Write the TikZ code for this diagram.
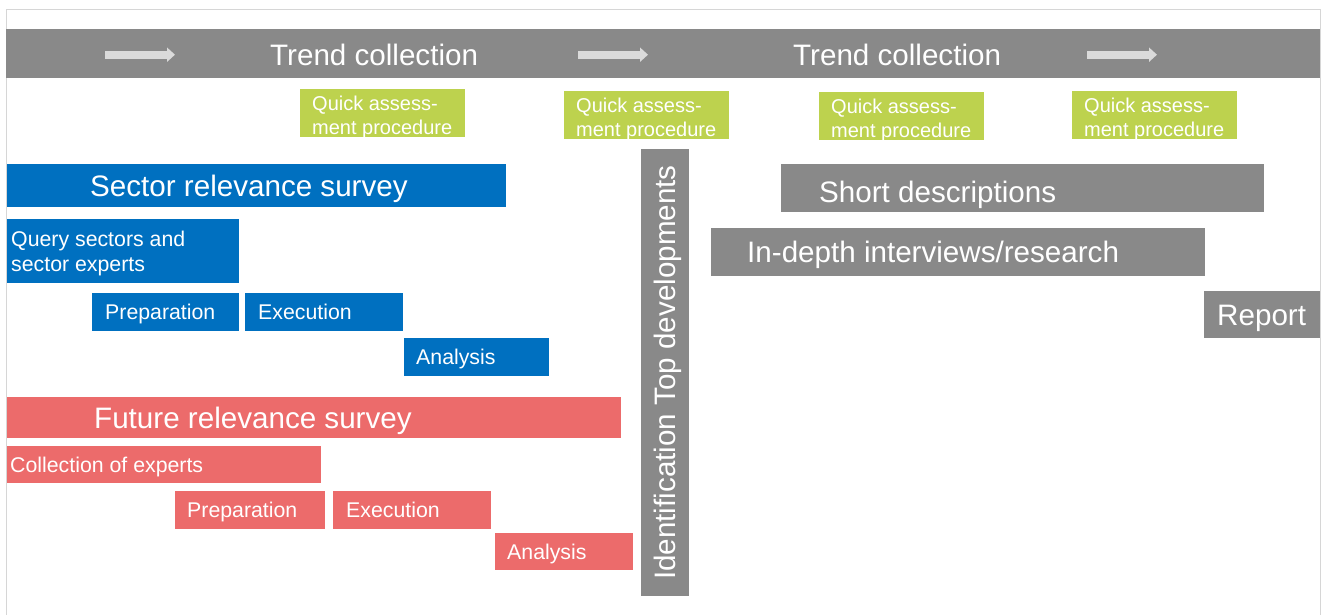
\documentclass[tikz,border=0pt]{standalone}
\usepackage{fontspec}
\setmainfont{Liberation Sans}
\usetikzlibrary{positioning,arrows.meta}

\definecolor{bargray}{HTML}{898989}
\definecolor{surveyblue}{HTML}{0070C0}
\definecolor{surveyred}{HTML}{EC6B6B}
\definecolor{quickgreen}{HTML}{BDD24E}
\definecolor{arrowgray}{HTML}{DADADA}
\definecolor{framegray}{HTML}{D6D6D6}

\tikzset{
  box/.style={anchor=north west, inner sep=0pt, outer sep=0pt},
  blue box/.style={box, fill=surveyblue},
  red box/.style={box, fill=surveyred},
  gray box/.style={box, fill=bargray},
  green box/.style={box, fill=quickgreen},
  big text/.style={text=white, inner sep=0pt, anchor=west,
    font=\fontsize{29.6}{35}\selectfont, text height=21.2pt, text depth=0pt},
  mid text/.style={text=white, inner sep=0pt, anchor=west,
    font=\fontsize{21.3}{25}\selectfont, text height=15.3pt, text depth=0pt},
  two lines/.style={text=white, inner sep=0pt, anchor=west, align=left},
}

\begin{document}
\begin{tikzpicture}[x=1pt,y=-1pt]
  \useasboundingbox (0,0) rectangle (1321,614);
  \draw[framegray, line width=1pt] (6,620) -- (6,9) -- (1320,9) -- (1320,620);

  % trend collection bar
  \node[gray box, minimum width=1314pt, minimum height=49pt] (trend) at (6,29) {};
  \node[big text, right=264pt of trend.west, yshift=-1.5pt] (trend1) {Trend collection};
  \node[big text, right=787pt of trend.west, yshift=-1.5pt] (trend2) {Trend collection};
  \foreach \x in {105,578,1087}
    \draw[arrowgray, line width=8pt, -{Triangle[length=8pt,width=14pt]}] (\x,54.7) -- ++(70,0);

  % quick assessments
  \foreach \x/\y [count=\i] in {300/89,564/91,819/92,1072/91} {
    \node[green box, minimum width=165pt, minimum height=48pt] (quick\i) at (\x,\y) {};
    \node[two lines, font=\fontsize{20}{24}\selectfont, right=12pt of quick\i.west, yshift=-4.5pt]
      (quicktext\i) {Quick assess-\\ment procedure};
  }

  % sector relevance survey
  \node[blue box, minimum width=499pt, minimum height=43pt] (sector) at (7,164) {};
  \node[big text, right=83pt of sector.west] (sectortext) {Sector relevance survey};
  \node[blue box, minimum width=232pt, minimum height=64pt] (query) at (7,219) {};
  \node[two lines, font=\fontsize{21.3}{25}\selectfont, right=4pt of query.west, yshift=-2.5pt]
    (querytext) {Query sectors and\\sector experts};
  \node[blue box, minimum width=147pt, minimum height=38pt] (sprep) at (92,293) {};
  \node[mid text, right=13pt of sprep.west] (spreptext) {Preparation};
  \node[blue box, minimum width=158pt, minimum height=38pt] (sexec) at (245,293) {};
  \node[mid text, right=13pt of sexec.west] (sexectext) {Execution};
  \node[blue box, minimum width=145pt, minimum height=38pt] (sana) at (404,338) {};
  \node[mid text, right=12pt of sana.west] (sanatext) {Analysis};

  % future relevance survey
  \node[red box, minimum width=614pt, minimum height=41pt] (future) at (7,397) {};
  \node[big text, right=87pt of future.west] (futuretext) {Future relevance survey};
  \node[red box, minimum width=314pt, minimum height=37pt] (experts) at (7,446) {};
  \node[mid text, right=3pt of experts.west] (expertstext) {Collection of experts};
  \node[red box, minimum width=150pt, minimum height=38pt] (fprep) at (175,491) {};
  \node[mid text, right=12pt of fprep.west] (fpreptext) {Preparation};
  \node[red box, minimum width=158pt, minimum height=38pt] (fexec) at (333,491) {};
  \node[mid text, right=13pt of fexec.west] (fexectext) {Execution};
  \node[red box, minimum width=138pt, minimum height=37pt] (fana) at (495,533) {};
  \node[mid text, right=12pt of fana.west] (fanatext) {Analysis};

  % top developments and follow-up
  \node[fill=bargray, text=white, rotate=90, inner sep=0pt, minimum width=447pt, minimum height=48pt,
    font=\fontsize{29.6}{35}\selectfont, text height=21.2pt, text depth=0pt] (topdev) at (665,372.5)
    {Identification Top developments};
  \node[gray box, minimum width=483pt, minimum height=48pt] (short) at (781,164) {};
  \node[big text, right=38pt of short.west, yshift=-4pt] (shorttext) {Short descriptions};
  \node[gray box, minimum width=494pt, minimum height=48pt] (depth) at (711,228) {};
  \node[big text, right=36pt of depth.west] (depthtext) {In-depth interviews/research};
  \node[gray box, minimum width=116pt, minimum height=47pt] (report) at (1204,291) {};
  \node[big text, right=13pt of report.west] (reporttext) {Report};
\end{tikzpicture}
\end{document}
